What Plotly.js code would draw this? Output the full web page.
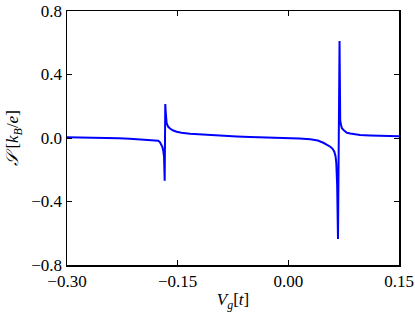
<!DOCTYPE html>
<html>
<head>
<meta charset="utf-8">
<script src="https://cdn.plot.ly/plotly-3.0.1.min.js"></script>
<style>
  body { margin: 0; background: #fff; }
  #graph { width: 415px; height: 312px; }
</style>
</head>
<body>
<div id="graph"></div>
<script>
// gate voltage V_g [t]
var vg = [-0.300, -0.270, -0.250, -0.230, -0.215, -0.200, -0.1875, -0.180, -0.1763, -0.1739,
          -0.1720, -0.1708, -0.1695, -0.1685, -0.1676, -0.1668, -0.1660, -0.1649, -0.1630,
          -0.1604, -0.1560, -0.1513, -0.1450, -0.1333, -0.1150, -0.0926, -0.0700, -0.0520,
          -0.0250, 0.0000, 0.0150, 0.0298, 0.0400, 0.0474, 0.0530, 0.0569, 0.0600, 0.0623,
          0.0640, 0.0650, 0.0662, 0.0673, 0.0694, 0.0703, 0.0715, 0.0726, 0.0760, 0.0794,
          0.0840, 0.0900, 0.0971, 0.1107, 0.1250, 0.1378, 0.1500];

// thermopower S [k_B/e]
var seebeck = [0.005, 0.004, 0.002, -0.001, -0.005, -0.009, -0.012, -0.015, -0.017, -0.027,
               -0.040, -0.055, -0.080, -0.118, -0.269, 0.214, 0.150, 0.093, 0.072,
               0.060, 0.047, 0.039, 0.033, 0.027, 0.021, 0.015, 0.010, 0.007,
               0.004, 0.000, -0.003, -0.008, -0.016, -0.030, -0.042, -0.055, -0.068, -0.086,
               -0.115, -0.157, -0.300, -0.636, 0.611, 0.113, 0.080, 0.061, 0.045, 0.033,
               0.028, 0.023, 0.019, 0.016, 0.014, 0.012, 0.011];

var xTicks = [-0.30, -0.15, 0.00, 0.15];
var yTicks = [-0.8, -0.4, 0.0, 0.4, 0.8];

var serif = "'Liberation Serif', serif";

var trace = {
    x: vg,
    y: seebeck,
    type: "scatter",
    mode: "lines",
    line: { color: "#0000ff", width: 2 },
    hoverinfo: "skip"
};

var axisStyle = {
    showgrid: false,
    zeroline: false,
    showline: true,
    linecolor: "#000",
    linewidth: 1.5,
    mirror: "allticks",
    ticks: "inside",
    ticklen: 5,
    tickwidth: 1,
    tickcolor: "#000",
    ticklabeloverflow: "allow",
    tickfont: { family: serif, size: 17, color: "#000" }
};

var layout = {
    width: 415,
    height: 312,
    margin: { l: 67, r: 16, t: 11, b: 47 },
    paper_bgcolor: "#fff",
    plot_bgcolor: "#fff",
    showlegend: false,
    xaxis: Object.assign({}, axisStyle, {
        range: [-0.30, 0.15],
        tickvals: xTicks,
        tickformat: ".2f",
        title: {
            text: "<i>V</i><sub><i>g</i></sub>[<i>t</i>]",
            font: { family: serif, size: 17, color: "#000" },
            standoff: 4
        }
    }),
    yaxis: Object.assign({}, axisStyle, {
        range: [-0.8, 0.8],
        tickvals: yTicks,
        tickformat: ".1f",
        title: {
            text: "<i>𝒮</i>\u00a0[<i>k</i><sub><i>B</i></sub>/<i>e</i>]",
            font: { family: serif, size: 17, color: "#000" },
            standoff: 8
        }
    })
};

Plotly.newPlot("graph", [trace], layout, { displayModeBar: false, staticPlot: true });
</script>
</body>
</html>
